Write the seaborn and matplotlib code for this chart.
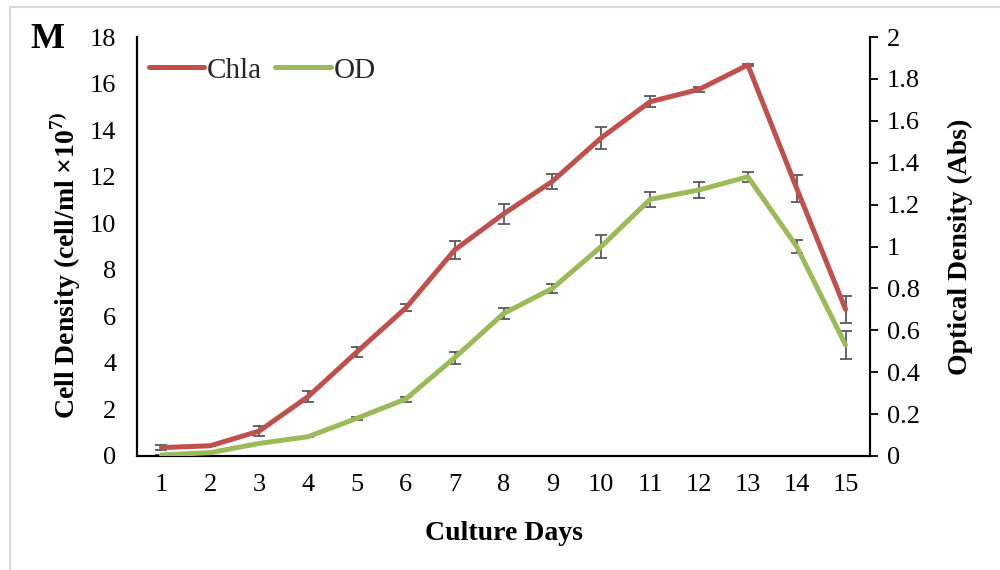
import matplotlib
matplotlib.use("Agg")
import matplotlib.pyplot as plt
import seaborn as sns
import pandas as pd
from matplotlib.patches import Rectangle

days = list(range(1, 16))
chla = [0.36, 0.44, 1.07, 2.55, 4.47, 6.36, 8.85, 10.4, 11.8, 13.67, 15.22, 15.75, 16.8, 11.5, 6.3]
chla_err = [0.10, 0.0, 0.21, 0.23, 0.21, 0.15, 0.39, 0.44, 0.33, 0.47, 0.24, 0.09, 0.06, 0.58, 0.57]
od = [0.005, 0.016, 0.06, 0.092, 0.18, 0.272, 0.469, 0.68, 0.80, 1.0, 1.225, 1.27, 1.333, 1.0, 0.53]
od_err = [0.0, 0.0, 0.0, 0.0, 0.007, 0.012, 0.028, 0.028, 0.023, 0.057, 0.034, 0.039, 0.025, 0.03, 0.065]

sns.set_theme(style="white")
plt.rcParams['font.family'] = ['Liberation Serif', 'DejaVu Serif']
plt.rcParams['mathtext.fontset'] = 'custom'
plt.rcParams['mathtext.rm'] = 'Liberation Serif'
plt.rcParams['mathtext.bf'] = 'Liberation Serif:bold'

RED = '#C0504D'
GREEN = '#9BBB59'
ERR = '#595959'
FS = 19

fig = plt.figure(figsize=(10, 5.7), dpi=100)
ax = fig.add_axes([0.137, 0.2, 0.733, 0.735])
ax2 = ax.twinx()

df = pd.DataFrame({'day': days, 'chla': chla, 'od': od})

ax.errorbar(days, chla, yerr=chla_err, fmt='none', ecolor=ERR, elinewidth=1.3, capsize=4, capthick=1.3, zorder=2)
sns.lineplot(data=df, x='day', y='chla', ax=ax, color=RED, linewidth=3.6, zorder=3, label='Chla', legend=False)
ax2.errorbar(days, od, yerr=od_err, fmt='none', ecolor=ERR, elinewidth=1.3, capsize=4, capthick=1.3, zorder=2)
sns.lineplot(data=df, x='day', y='od', ax=ax2, color=GREEN, linewidth=3.6, zorder=3, label='OD', legend=False)

ax.set_xlim(0.5, 15.5)
ax.set_ylim(0, 18)
ax2.set_ylim(0, 2)
ax.set_xticks(days)
ax.set_xticklabels([str(d) for d in days])
ax.set_yticks(range(0, 19, 2))
ax2.set_yticks([0, 0.2, 0.4, 0.6, 0.8, 1, 1.2, 1.4, 1.6, 1.8, 2])
ax2.set_yticklabels(['0', '0.2', '0.4', '0.6', '0.8', '1', '1.2', '1.4', '1.6', '1.8', '2'])

ax.tick_params(axis='x', length=0, labelsize=FS, pad=13, colors='black')
ax.tick_params(axis='y', length=0, labelsize=FS, pad=15, colors='black')
ax2.tick_params(axis='y', length=6, width=1.3, direction='out', labelsize=FS, pad=6, colors='black')

for a in (ax, ax2):
    a.spines['top'].set_visible(False)
    for s in ('left', 'right', 'bottom'):
        a.spines[s].set_color('black')
        a.spines[s].set_linewidth(1.5)
    a.grid(False)

ax.set_xlabel('Culture Days', fontsize=20, fontweight='bold', labelpad=18, color='black')
ax.set_ylabel('Cell Density (cell/ml ×10$^{\\mathbf{7)}}$', fontsize=20, fontweight='bold', color='black')
ax.yaxis.set_label_coords(-0.074, 0.455)
ax2.set_ylabel('Optical Density (Abs)', fontsize=20, fontweight='bold', labelpad=20, color='black')

h1, l1 = ax.get_legend_handles_labels()
h2, l2 = ax2.get_legend_handles_labels()
leg = ax.legend(h1 + h2, l1 + l2, loc='upper left', bbox_to_anchor=(0.0, 0.98), ncol=2, frameon=False,
                fontsize=21, handlelength=1.9, handletextpad=0.1, columnspacing=0.45, borderaxespad=0)

fig.text(0.03, 0.93, 'M', fontsize=26, fontweight='bold', color='black', va='center', ha='left')

fig.add_artist(Rectangle((0.01, -0.1), 1.5, 1.1 - 7 / 570, transform=fig.transFigure, fill=False,
                         edgecolor='#d9d9d9', linewidth=1.5))

fig.savefig('out.png', dpi=100)
